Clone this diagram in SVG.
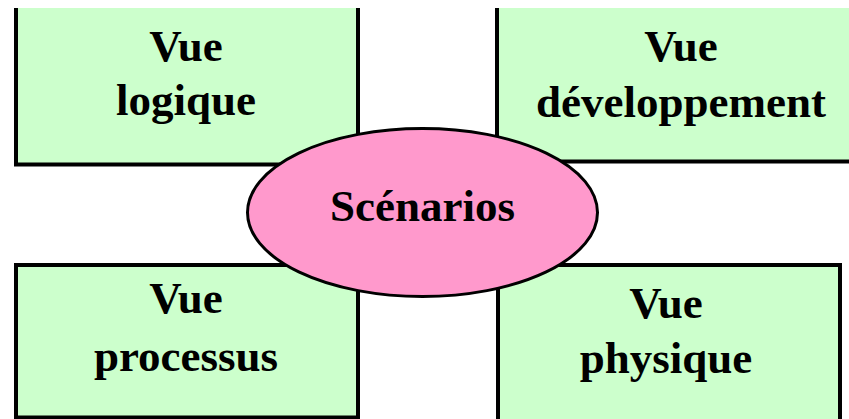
<svg xmlns="http://www.w3.org/2000/svg" width="849" height="419" viewBox="0 0 849 419">
  <style>
    .box { fill: #CCFFCC; stroke: none; }
    .edge { fill: none; stroke: #000; stroke-width: 4; }
    .hub { fill: #FF99CC; stroke: #000; stroke-width: 3; }
    .label { font-family: "Liberation Serif", "Times New Roman", serif; font-weight: bold; font-size: 45px; fill: #000; text-anchor: middle; }
  </style>

  <!-- Four views -->
  <g id="vue-logique">
    <rect class="box" x="16" y="8" width="342" height="156.5"/>
    <path class="edge" d="M16,8 V164.5 H358 V8"/>
    <text class="label" x="186" y="61">Vue</text>
    <text class="label" x="186" y="115">logique</text>
  </g>

  <g id="vue-developpement">
    <rect class="box" x="497" y="8" width="360" height="153.5"/>
    <path class="edge" d="M497,8 V161.5 H851"/>
    <text class="label" x="681" y="61">Vue</text>
    <text class="label" x="681" y="117">développement</text>
  </g>

  <g id="vue-processus">
    <rect class="box" x="16" y="265" width="342" height="152.5"/>
    <rect class="edge" x="16" y="265" width="342" height="152.5"/>
    <text class="label" x="186" y="313">Vue</text>
    <text class="label" x="186" y="371">processus</text>
  </g>

  <g id="vue-physique">
    <rect class="box" x="498" y="265" width="342" height="156"/>
    <path class="edge" d="M498,421 V265 H840 V421"/>
    <text class="label" x="666" y="318">Vue</text>
    <text class="label" x="666" y="373">physique</text>
  </g>

  <!-- Central scenarios -->
  <g id="scenarios">
    <ellipse class="hub" cx="422.5" cy="212.5" rx="175" ry="84"/>
    <text class="label" x="422.5" y="221">Scénarios</text>
  </g>

  <g id="connectors"/>
</svg>
